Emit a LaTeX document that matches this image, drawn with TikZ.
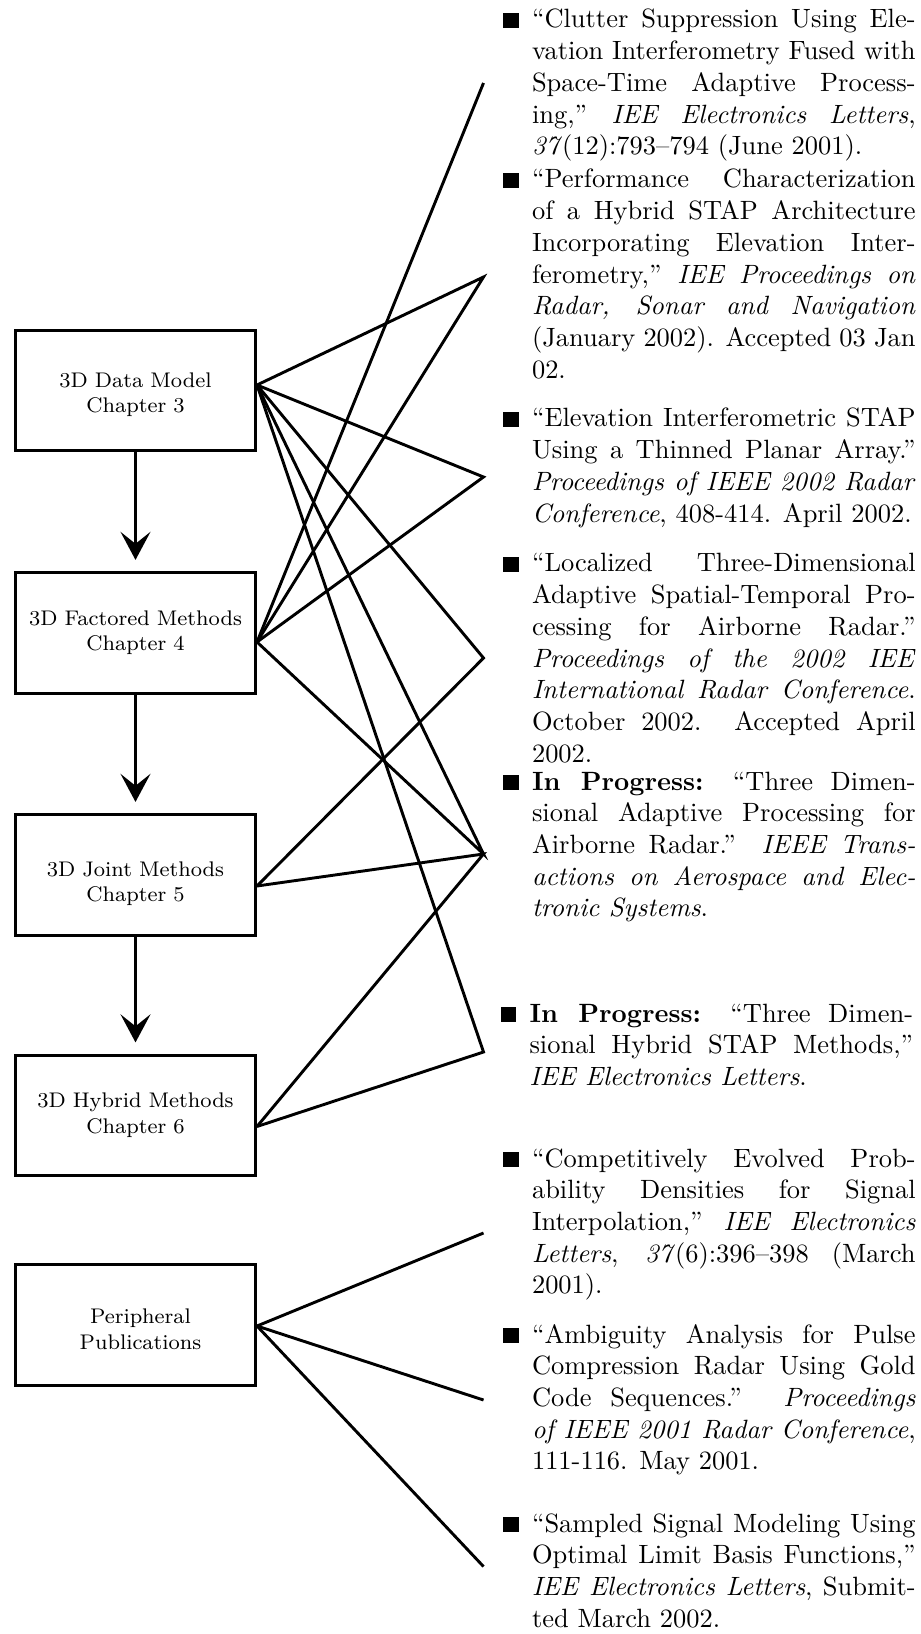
\documentclass[tikz,border=0pt]{standalone}
\usetikzlibrary{arrows.meta,calc}
\newlength\colw
\setlength\colw{145pt}
\newcommand\JL[1]{\hbox to\colw{#1}}
\newcommand\LL[1]{\hbox{#1}}
\newcommand\BUL{\llap{\rule{5.8pt}{5.8pt}\hspace{5pt}}}
\hbadness=10000
\hfuzz=6pt
\begin{document}
\begin{tikzpicture}[x=0.378pt,y=-0.378pt,
  box/.style={draw, line width=1.15pt, rectangle, minimum width=90.7pt, minimum height=45.5pt,
    inner sep=0pt, text width=88pt, align=center, font=\footnotesize, text height=14pt},
  item/.style={anchor=base west, inner sep=0pt},
  conn/.style={line width=1.1pt, line join=miter},
  arr/.style={line width=1.15pt, -{Stealth[length=10.6pt,width=11.3pt,inset=4.5pt]}, shorten >=4.3pt}]
\useasboundingbox (0,0) rectangle (920,1634);

% chapter boxes
\node[box, text depth=16.4pt] (b1) at (135.5,390.5) {3D Data Model\\Chapter 3};
\node[box, text depth=19.8pt] (b2) at (135.5,633) {3D Factored Methods\\Chapter 4};
\node[box, text depth=13.2pt] (b3) at (135.5,875) {3D Joint Methods\\Chapter 5};
\node[box, text depth=19.7pt] (b4) at (135.5,1115.5) {3D Hybrid Methods\\Chapter 6};
\node[box, text depth=14.8pt] (b5) at (135.5,1325) {\hspace*{3.8pt}Peripheral\\\hspace*{3.8pt}Publications};

\draw[arr] (b1.south) -- (b2.north);
\draw[arr] (b2.south) -- (b3.north);
\draw[arr] (b3.south) -- (b4.north);

% publication list
\node[item] (p1) at (531.5,28) {\vtop{%
\JL{\BUL “Clutter Suppression Using Ele-}
\JL{vation Interferometry Fused with}
\JL{Space-Time Adaptive Process-}
\JL{ing,” \emph{IEE Electronics Letters},}
\LL{\emph{37}(12):793–794 (June 2001).}}};

\node[item] (p2) at (531.5,188) {\vtop{%
\JL{\BUL “Performance Characterization}
\JL{of a Hybrid STAP Architecture}
\JL{Incorporating Elevation Inter-}
\JL{ferometry,” \emph{IEE Proceedings on}}
\JL{\emph{Radar, Sonar and Navigation}}
\JL{(January 2002). Accepted 03 Jan}
\LL{02.}}};

\node[item] (p3) at (531.5,427) {\vtop{%
\JL{\BUL “Elevation Interferometric STAP}
\JL{Using a Thinned Planar Array.”}
\JL{\emph{Proceedings of IEEE 2002 Radar}}
\LL{\emph{Conference}, 408-414. April 2002.}}};

\node[item] (p4) at (531.5,572) {\vtop{%
\JL{\BUL “Localized Three-Dimensional}
\JL{Adaptive Spatial-Temporal Pro-}
\JL{cessing for Airborne Radar.”}
\JL{\emph{Proceedings of the 2002 IEE}}
\JL{\emph{International Radar Conference}.}
\JL{October 2002. Accepted April}
\LL{2002.}}};

\node[item] (p5) at (531.5,790) {\vtop{%
\JL{\BUL \textbf{In Progress:} “Three Dimen-}
\JL{sional Adaptive Processing for}
\JL{Airborne Radar.” \emph{IEEE Trans-}}
\JL{\emph{actions on Aerospace and Elec-}}
\LL{\emph{tronic Systems}.}}};

\node[item] (p6) at (529,1022) {\vtop{%
\JL{\BUL \textbf{In Progress:} “Three Dimen-}
\JL{sional Hybrid STAP Methods,”}
\LL{\emph{IEE Electronics Letters}.}}};

\node[item] (p7) at (531.5,1167) {\vtop{%
\JL{\BUL “Competitively Evolved Prob-}
\JL{ability Densities for Signal}
\JL{Interpolation,” \emph{IEE Electronics}}
\JL{\emph{Letters}, \emph{37}(6):396–398 (March}
\LL{2001).}}};

\node[item] (p8) at (531.5,1343) {\vtop{%
\JL{\BUL “Ambiguity Analysis for Pulse}
\JL{Compression Radar Using Gold}
\JL{Code Sequences.” \emph{Proceedings}}
\JL{\emph{of IEEE 2001 Radar Conference},}
\LL{111-116. May 2001.}}};

\node[item] (p9) at (531.5,1532) {\vtop{%
\JL{\BUL “Sampled Signal Modeling Using}
\JL{Optimal Limit Basis Functions,”}
\JL{\emph{IEE Electronics Letters}, Submit-}
\LL{ted March 2002.}}};

% connector end points
\coordinate (s1) at ($(b1.east)+(0,-5.5)$);
\coordinate (s2) at ($(b2.east)+(0,9)$);
\coordinate (s3) at ($(b3.east)+(0,11)$);
\coordinate (s4) at ($(b4.east)+(0,11)$);
\coordinate (s5) at ($(b5.east)+(0,1)$);
\coordinate (t1) at (483.5,83);
\coordinate (t2) at (483.5,277);
\coordinate (t3) at (483.5,477);
\coordinate (t4) at (483.5,658);
\coordinate (t5) at (483.5,854);
\coordinate (t6) at (483.5,1052);
\coordinate (t7) at (483.5,1233);
\coordinate (t8) at (483.5,1400);
\coordinate (t9) at (483.5,1566.5);

\draw[conn] (s2) -- (t1);
\draw[conn] (s1) -- (t2) -- (s2);
\draw[conn] (s1) -- (t3) -- (s2);
\draw[conn] (s1) -- (t4) -- (s3);
\draw[conn] (s1) -- (t5) -- (s2);
\draw[conn] (s3) -- (t5) -- (s4);
\draw[conn] (s1) -- (t6) -- (s4);
\draw[conn] (s5) -- (t7);
\draw[conn] (s5) -- (t8);
\draw[conn] (s5) -- (t9);
\end{tikzpicture}
\end{document}
